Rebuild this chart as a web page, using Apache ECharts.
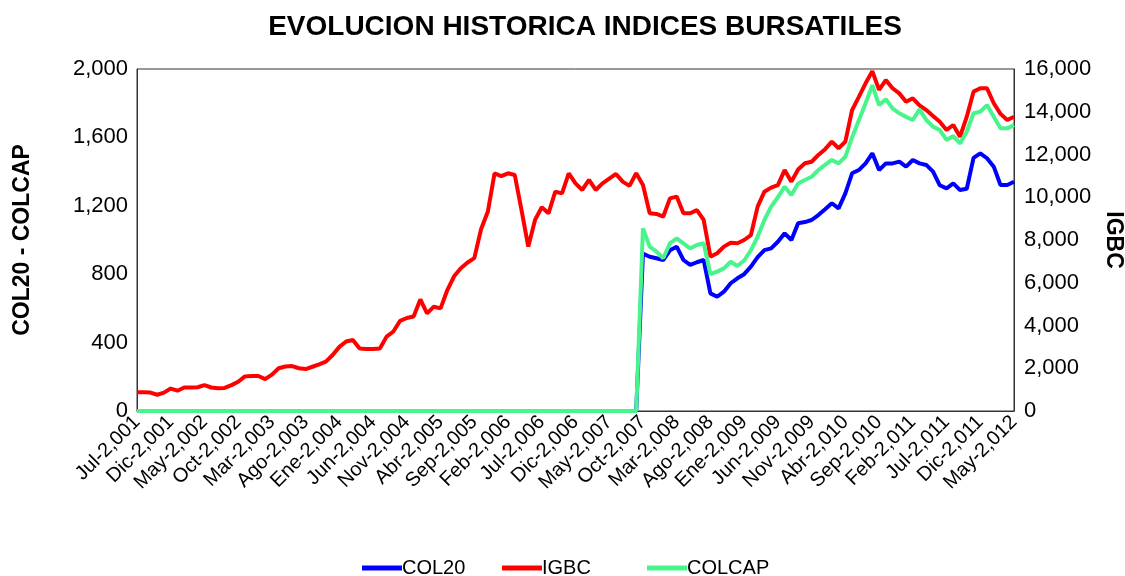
<!DOCTYPE html>
<html>
<head>
<meta charset="utf-8">
<script src="https://cdn.jsdelivr.net/npm/echarts@6/dist/echarts.min.js"></script>
<style>
  html, body { margin: 0; padding: 0; background: #fff; }
  #chart { width: 1125px; height: 576px; }
</style>
</head>
<body>
<div id="chart"></div>
<script>
// ---- DATA ----
const monthNames = ["Ene","Feb","Mar","Abr","May","Jun","Jul","Ago","Sep","Oct","Nov","Dic"];
const startYear = 2001, startMonth = 6, monthCount = 131; // Jul-2001 .. May-2012

const igbc = [
  875, 880, 860, 760, 860, 1050, 950, 1100, 1100, 1110,
  1210, 1100, 1060, 1080, 1210, 1370, 1620, 1640, 1640, 1490,
  1700, 2000, 2080, 2100, 2000, 1960, 2070, 2180, 2310, 2620,
  3000, 3250, 3320, 2920, 2900, 2900, 2920, 3480, 3720, 4220,
  4350, 4420, 5220, 4570, 4880, 4800, 5660, 6300, 6680, 6950,
  7150, 8500, 9320, 11120, 10990, 11120, 11040, 9400, 7690, 8940,
  9530, 9250, 10260, 10180, 11120, 10650, 10340, 10810, 10340, 10650,
  10870, 11090, 10730, 10530, 11120, 10570, 9250, 9220, 9090, 9950,
  10030, 9250, 9250, 9400, 8940, 7220, 7380, 7690, 7870, 7850,
  8000, 8230, 9560, 10260, 10450, 10570, 11270, 10730, 11300, 11590,
  11660, 11980, 12250, 12600, 12290, 12600, 14080, 14700, 15330, 15900,
  15020, 15480, 15100, 14860, 14470, 14630, 14300, 14080, 13800, 13530,
  13150, 13380, 12830, 13770, 14940, 15100, 15100, 14400, 13900, 13610,
  13770
];

const colcapLate = [ // from Oct-2007 (index 75)
  1068, 961, 932, 893, 981, 1010, 980, 951, 971, 981,
  800, 815, 834, 873, 848, 880, 940, 1019, 1117, 1195,
  1250, 1312, 1263, 1330, 1351, 1370, 1409, 1440, 1468, 1448,
  1487, 1600, 1700, 1800, 1906, 1789, 1823, 1770, 1741, 1720,
  1702, 1764, 1702, 1663, 1643, 1585, 1608, 1565, 1633, 1741,
  1750, 1789, 1721, 1653, 1653, 1672
];

const col20Late = [ // from Oct-2007 (index 75)
  920, 902, 893, 883, 940, 961, 883, 854, 870, 883,
  688, 668, 698, 747, 776, 800, 844, 900, 941, 951,
  990, 1039, 1000, 1098, 1105, 1117, 1146, 1180, 1215, 1185,
  1273, 1390, 1409, 1448, 1507, 1409, 1448, 1448, 1458, 1429,
  1468, 1448, 1439, 1400, 1320, 1302, 1331, 1292, 1300, 1480,
  1507, 1478, 1429, 1322, 1322, 1341
];

const zerosBefore = 75; // COL20 / COLCAP plotted as 0 before Oct-2007

const leftTicks = { min: 0, max: 2000, interval: 400 };
const rightTicks = { min: 0, max: 16000, interval: 2000 };

// ---- BUILD ----
const categories = [];
for (let i = 0; i < monthCount; i++) {
  const m = (startMonth + i) % 12;
  const y = startYear + Math.floor((startMonth + i) / 12);
  categories.push(monthNames[m] + "-" + y.toLocaleString("en-US"));
}
const zeros = new Array(zerosBefore).fill(0);
const colcap = zeros.concat(colcapLate);
const col20 = zeros.concat(col20Late);

const FONT = "Liberation Sans, Arial, sans-serif";
const COLORS = { COL20: "#0000FF", IGBC: "#FF0000", COLCAP: "#48F58C" };

function legendFor(name, left) {
  return {
    data: [name], left: left, top: 553,
    itemWidth: 40, itemHeight: 5, icon: "rect",
    textStyle: { fontFamily: FONT, fontSize: 20, color: "#000", padding: [0, 0, 0, -5] }
  };
}

const chart = echarts.init(document.getElementById("chart"));
chart.setOption({
  backgroundColor: "#ffffff",
  animation: false,
  title: {
    text: "EVOLUCION HISTORICA INDICES BURSATILES",
    left: 580, top: 8, textAlign: "center",
    textStyle: { fontFamily: FONT, fontSize: 28, fontWeight: "bold", color: "#000" }
  },
  legend: [legendFor("COL20", 357), legendFor("IGBC", 497), legendFor("COLCAP", 642)],
  grid: {
    left: 137, right: 111, top: 69, bottom: 165,
    containLabel: false, outerBoundsMode: "none",
    show: true, borderColor: "#333", borderWidth: 1, backgroundColor: "#fff"
  },
  xAxis: {
    type: "category",
    data: categories,
    boundaryGap: false,
    axisLine: { lineStyle: { color: "#333", width: 1 } },
    axisTick: { show: false },
    axisLabel: {
      interval: 4, rotate: 45, fontFamily: FONT, fontSize: 20, color: "#000", margin: 8
    },
    splitLine: { show: false }
  },
  yAxis: [
    {
      type: "value", min: leftTicks.min, max: leftTicks.max, interval: leftTicks.interval,
      name: "COL20 - COLCAP", nameLocation: "middle", nameGap: 103, nameRotate: 90,
      nameTextStyle: { fontFamily: FONT, fontSize: 23, fontWeight: "bold", color: "#000" },
      axisLine: { show: true, lineStyle: { color: "#333" } },
      axisTick: { show: false },
      axisLabel: {
        fontFamily: FONT, fontSize: 22, color: "#000", margin: 9,
        formatter: v => v.toLocaleString("en-US")
      },
      splitLine: { show: false }
    },
    {
      type: "value", min: rightTicks.min, max: rightTicks.max, interval: rightTicks.interval,
      name: "IGBC", nameLocation: "middle", nameGap: 88, nameRotate: -90,
      nameTextStyle: { fontFamily: FONT, fontSize: 23, fontWeight: "bold", color: "#000" },
      axisLine: { show: true, lineStyle: { color: "#333" } },
      axisTick: { show: false },
      axisLabel: {
        fontFamily: FONT, fontSize: 22, color: "#000", margin: 10,
        formatter: v => v.toLocaleString("en-US")
      },
      splitLine: { show: false }
    }
  ],
  series: [
    {
      name: "COL20", type: "line", yAxisIndex: 0, data: col20,
      showSymbol: false, symbol: "none",
      lineStyle: { color: COLORS.COL20, width: 4 }, itemStyle: { color: COLORS.COL20 }
    },
    {
      name: "IGBC", type: "line", yAxisIndex: 1, data: igbc,
      showSymbol: false, symbol: "none",
      lineStyle: { color: COLORS.IGBC, width: 4 }, itemStyle: { color: COLORS.IGBC }
    },
    {
      name: "COLCAP", type: "line", yAxisIndex: 0, data: colcap,
      showSymbol: false, symbol: "none",
      lineStyle: { color: COLORS.COLCAP, width: 4 }, itemStyle: { color: COLORS.COLCAP }
    }
  ]
});
</script>
</body>
</html>
